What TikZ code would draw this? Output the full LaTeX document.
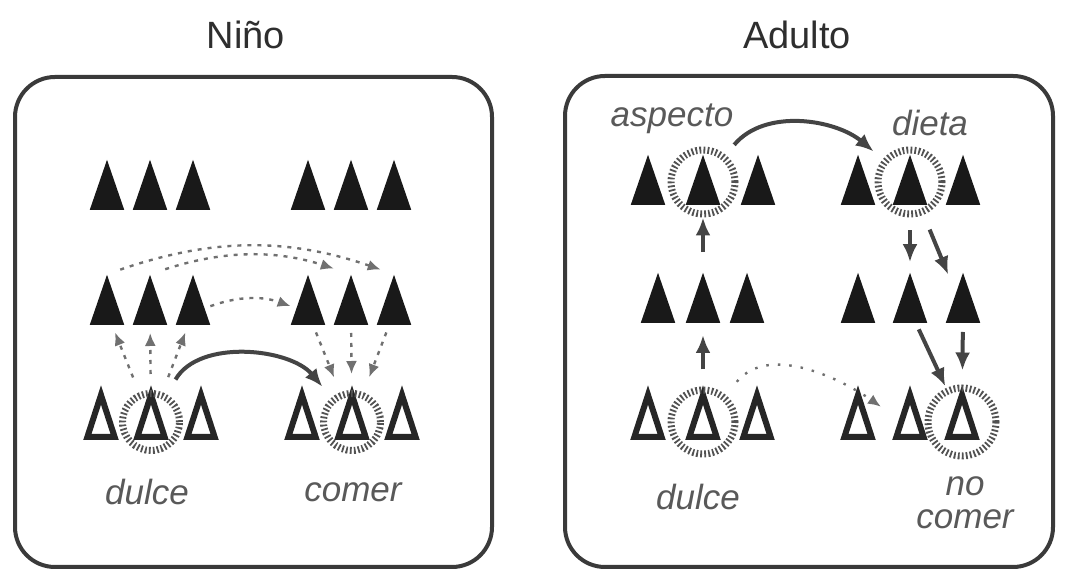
\documentclass[tikz,border=0pt]{standalone}
\usepackage{fontspec}
\setmainfont{Liberation Sans}
\usetikzlibrary{arrows.meta,shapes.geometric}

\definecolor{frame}{HTML}{3A3A3A}
\definecolor{ink}{HTML}{444444}
\definecolor{soft}{HTML}{707070}

\begin{document}
\begin{tikzpicture}[
  x=1pt,y=1pt,
  >=Latex,
  panel/.style={draw=frame,line width=4pt,rounded corners=40pt},
  title/.style={font=\fontsize{38}{40}\selectfont,text=black!82},
  word/.style={font=\fontsize{35}{36}\selectfont\itshape,text=black!65,align=center},
  fulltri/.style={isosceles triangle,isosceles triangle apex angle=38,shape border rotate=90,
    minimum height=50pt,inner sep=0pt,fill=black!90,anchor=lower side},
  hollowtri/.style={isosceles triangle,isosceles triangle apex angle=36,shape border rotate=90,
    minimum height=42pt,inner sep=0pt,draw=black!85,line width=6pt,fill=white,anchor=lower side},
  ring/.style={circle,draw=black!68,line width=7pt,dash pattern=on 1.8pt off 2.2pt,
    inner sep=0pt,minimum size=#1},
  link/.style={-{Latex[length=18pt,width=15pt]},line width=4pt,draw=ink},
  hint/.style={-{Latex[length=13pt,width=11pt]},line width=2.4pt,draw=soft,dash pattern=on 4pt off 6pt},
  faint/.style={hint,dash pattern=on 2.5pt off 9pt}
]
  \useasboundingbox (0,0) rectangle (1065,585);
  \draw[panel] (15,18) rectangle (492,508);
  \draw[panel] (565,18) rectangle (1053,509);
  \node[title] (nino) at (246,550) {Niño};
  \node[title] (adulto) at (797,550) {Adulto};

  \foreach \x [count=\i] in {107,150,193,308,351,394} {
    \node[fulltri] (lt\i) at (\x,375) {};
    \node[fulltri] (lm\i) at (\x,260) {};
  }
  \foreach \x [count=\i] in {101,151,201,302,352,402}
    \node[hollowtri] (lb\i) at (\x,145) {};
  \node[ring=57pt] (lc1) at (151,163) {};
  \node[ring=57pt] (lc2) at (352,163) {};
  \node[word] (dulce) at (147,93) {dulce};
  \node[word] (comer) at (353,93) {comer};

  \draw[link,shorten <=17pt,shorten >=14pt] (lc1) to[out=60,in=130] (lc2);
  \foreach \j in {1,2,3}
    \draw[hint,shorten <=16pt,shorten >=8pt] (lc1) -- (lm\j);
  \foreach \j in {4,5,6}
    \draw[hint,shorten <=8pt,shorten >=16pt] (lm\j) -- (lc2);
  \draw[hint,shorten <=14pt,shorten >=14pt] (lm1.apex) to[out=19,in=161] (lm6.apex);
  \draw[hint,shorten <=16pt,shorten >=18pt] (lm2.apex) to[out=18,in=162] (lm5.apex);
  \draw[hint,shorten <=6pt,shorten >=6pt] (lm3) to[out=20,in=160] (lm4);

  \foreach \x [count=\i] in {648,703,758,858,910,963}
    \node[fulltri] (at\i) at (\x,380) {};
  \foreach \x [count=\i] in {658,703,747,858,910,963}
    \node[fulltri] (am\i) at (\x,262) {};
  \foreach \x [count=\i] in {648,703,757,858,910,962}
    \node[hollowtri] (ab\i) at (\x,145) {};
  \node[ring=64pt] (ac1) at (703,403) {};
  \node[ring=64pt] (ac2) at (910,403) {};
  \node[ring=64pt] (ac3) at (703,163) {};
  \node[ring=68pt] (ac4) at (962,163) {};
  \node[word] (aspecto) at (672,466) {aspecto};
  \node[word] (dieta) at (930,462) {dieta};
  \node[word] (dulceA) at (698,88) {dulce};
  \node[word] (nocomer) at (965,82) {no\\[-3pt]comer};

  \draw[link,shorten <=13pt,shorten >=12pt] (ac1) to[out=50,in=140] (ac2);
  \draw[link,shorten <=17pt,shorten >=12pt] (ac3) -- (am2);
  \draw[link,shorten <=20pt,shorten >=0pt] (am2) -- (ac1);
  \draw[link,shorten <=13pt,shorten >=10pt] (ac2) -- (am5);
  \draw[link,shorten <=16pt,shorten >=20pt] (ac2) -- (am6);
  \draw[link,shorten <=7pt,shorten >=2pt] (am5) -- (ac4);
  \draw[link,shorten <=9pt,shorten >=14pt] (am6) -- (ac4);
  \draw[faint,shorten <=17pt,shorten >=22pt] (ac3) to[out=50,in=145] (ab5);
\end{tikzpicture}
\end{document}
